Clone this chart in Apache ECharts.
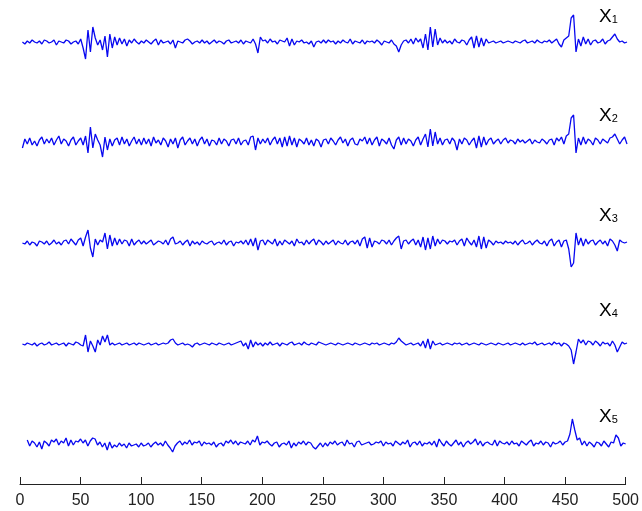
<!DOCTYPE html>
<html>
<head>
<meta charset="utf-8">
<script src="https://cdn.jsdelivr.net/npm/echarts@6/dist/echarts.min.js"></script>
<style>html,body{margin:0;padding:0;background:#fff}#c{width:642px;height:511px}</style>
</head>
<body>
<div id="c"></div>
<script>
// sample times: 2, 4, ..., 500
const tStart = 2, tStep = 2;
const xTicks = [0, 50, 100, 150, 200, 250, 300, 350, 400, 450, 500];
const seriesNames = ['1', '2', '3', '4', '5'];

const x1 = [
 0,-2,1,-1,2,0,-1,1,-2,2,1,-1,0,2,-3,1,0,-1,2,1,-2,0,1,-2,3,
 -6,-17,12,-10,15,4,-3,2,-8,6,-15,8,-6,5,-3,4,-2,3,-4,2,-1,3,0,-2,1,
 -1,2,0,-2,1,3,-3,2,-1,0,1,-2,2,-6,1,0,-1,2,3,1,-2,0,1,-1,2,
 -1,1,-2,0,2,-1,1,0,-2,1,2,-1,0,1,-1,2,-2,1,0,-1,3,-2,-11,5,1,
 2,-1,3,0,1,-2,2,1,0,4,-4,3,-3,1,0,2,-1,0,-2,1,-5,0,1,-1,2,
 -1,2,0,1,-2,1,-1,2,0,-1,3,-2,1,0,-1,2,-2,1,0,1,-1,2,0,-3,1,
 0,-1,2,-2,-4,-10,-3,1,2,-1,3,-2,4,0,3,-6,8,-8,15,-5,13,-3,4,-1,2,
 -1,1,-2,3,0,-1,2,1,-3,2,5,-6,6,-5,4,-4,3,-1,0,1,-1,0,1,-1,0,
 1,0,-1,1,0,-1,1,2,-1,0,1,-1,2,0,-1,1,0,2,-1,1,3,-2,-5,2,4,
 6,24,27,-10,3,-4,5,-2,3,-3,1,2,-1,0,3,-2,1,2,5,8,3,0,1,-1,0
];
const x2 = [
 -6,3,-2,4,-3,1,-4,2,5,-2,3,-1,4,-3,2,6,-2,3,1,-4,2,5,-3,1,4,
 -3,6,-11,15,-6,8,2,-3,-15,5,-8,3,-4,2,4,-3,5,-2,3,-4,1,5,-2,3,-3,
 4,-2,3,-4,5,-1,2,-3,4,1,-5,3,-2,4,-6,2,5,-3,1,4,-2,3,-4,2,5,
 -2,3,-4,2,1,-3,4,-2,3,1,-4,2,3,-2,4,-3,1,2,-3,5,6,-8,4,-2,3,
 -1,4,-3,2,5,-2,4,-5,5,-4,6,-3,4,-5,3,1,-2,4,-3,2,-4,3,1,-5,2,
 3,-2,4,1,-3,2,5,-1,3,-4,2,4,-2,-3,3,1,5,-2,4,-3,2,5,-4,3,1,
 -2,4,-3,-7,2,5,-3,4,-2,3,1,-4,2,5,-3,3,8,-5,13,-4,10,-2,4,-3,2,
 3,-2,4,1,-8,3,-2,4,2,-3,1,4,-6,6,-5,5,-3,2,4,-2,1,3,-2,2,4,
 -1,2,1,-2,3,0,2,-1,1,3,-2,2,0,-1,3,1,-2,2,3,-3,4,1,5,-2,6,
 8,24,27,-11,4,-3,5,-2,3,1,-3,4,2,-2,3,1,-1,4,5,8,3,-2,2,5,-2
];
const x3 = [
 0,-1,2,-2,1,0,-3,2,1,-1,2,-2,0,3,-1,1,-2,2,3,-1,4,1,-2,3,5,
 -3,6,13,-5,-14,4,-2,3,1,10,-6,8,-3,5,-2,4,-1,3,2,-3,4,-2,1,3,-1,
 2,-1,1,3,-2,0,2,1,-1,3,-2,4,6,-1,0,2,-2,1,3,-3,2,-1,1,-2,2,
 0,-1,1,2,-2,0,1,-1,3,-2,1,2,-3,1,0,2,-1,3,-2,4,-3,5,-7,2,3,
 -2,3,1,-1,4,-3,2,-2,3,1,-1,2,-3,4,0,1,-2,3,-1,2,4,-2,3,1,-2,
 2,-1,1,3,-2,2,0,-1,3,-2,1,2,-1,3,-3,4,6,-5,5,-4,2,1,-1,3,2,
 -1,3,-2,2,5,7,-6,2,3,-1,2,4,-2,3,-4,6,-7,5,-6,7,-3,4,-1,3,2,
 -1,2,1,3,-2,2,4,-3,5,1,-2,3,-4,7,-6,6,-5,3,1,-2,2,0,1,-1,2,
 0,1,-1,2,-2,1,3,-1,0,2,-2,1,3,0,-1,2,-3,2,4,-3,1,3,-4,2,3,
 -6,-24,-20,10,-2,5,-3,4,-1,2,3,-2,1,3,-1,2,-3,4,2,-2,-8,3,1,0,1
];
const x4 = [
 0,-1,1,0,-1,1,-2,0,1,-1,0,2,-1,0,1,-1,0,1,-2,1,0,-1,2,1,-1,
 -2,9,-8,3,-2,-8,4,-1,8,2,9,-1,1,-1,0,1,-1,0,1,-1,0,1,-1,1,0,
 -1,0,1,-1,0,1,-1,0,1,0,1,4,5,1,-1,0,1,-1,0,-1,-3,0,1,-1,0,
 1,0,-1,1,0,-1,1,0,-1,0,1,-1,0,1,2,3,-2,1,-5,4,-3,2,-1,1,-2,
 1,-1,2,-1,0,1,-2,1,0,-1,1,2,-1,0,1,-1,2,0,-1,1,0,-1,2,1,0,
 -1,0,1,0,-1,1,0,-1,0,1,0,-1,1,0,-1,0,1,0,-1,1,0,1,-1,0,1,
 0,-1,1,0,2,6,3,1,-1,0,1,-1,0,1,-2,3,-4,5,-5,3,-1,0,1,-1,0,
 1,0,-1,1,0,1,-1,0,1,-1,0,1,0,-1,1,0,-1,0,1,0,-1,1,0,-1,0,
 1,-1,0,1,0,-1,1,-1,0,1,0,2,-1,0,1,-1,0,1,-1,2,0,1,-2,1,0,
 -2,-6,-20,-8,5,1,4,-1,3,2,-1,3,1,-2,2,0,1,-2,3,-1,-8,-3,2,0,1
];
const x5 = [
 null,null,4,-2,3,1,-3,2,-5,3,1,-2,4,2,5,-1,3,1,6,-2,4,-1,3,2,5,
 1,4,-2,3,6,5,-1,2,-3,1,-6,2,-4,-1,-3,1,-2,0,-4,1,-2,-1,0,-3,1,
 -2,-1,1,-3,0,2,-1,1,-2,3,-1,-4,-8,-2,1,3,-1,2,0,4,-1,2,1,3,-2,
 2,0,1,-1,2,-3,0,1,-2,3,1,4,0,3,-1,2,1,0,3,-1,4,2,8,-1,2,
 1,3,0,-2,1,2,-3,0,1,-1,3,-4,1,-2,2,0,3,-1,2,1,-3,-5,-2,1,-3,
 1,-2,2,0,3,-1,1,2,-2,4,0,1,-3,2,3,-1,0,1,2,-1,0,2,1,3,-2,
 2,0,1,-2,3,1,-1,2,0,4,-3,1,2,-1,3,-2,1,0,2,-1,3,-3,5,1,-2,
 3,0,-2,1,4,-1,2,-3,1,3,0,2,5,-1,3,-2,1,2,0,-1,4,-2,3,1,0,
 2,-1,3,0,1,-2,3,1,-1,2,4,-2,1,0,3,-1,2,1,-3,2,0,1,3,-1,2,
 3,10,25,14,4,6,-1,3,-2,2,0,-3,2,1,-2,3,0,-3,2,1,9,6,-2,1,0
];
const signals = [x1, x2, x3, x4, x5];

// layout
const tops = [12, 112, 213, 314, 414];
const heights = [60, 60, 60, 60, 70];
const yMins = [-30, -30, -30, -30, -40];
const labelY = [19, 118, 218, 313, 419];

const grids = [], xAxes = [], yAxes = [], series = [], graphics = [];
signals.forEach((vals, k) => {
  grids.push({left: 20, right: 15, top: tops[k], height: heights[k]});
  const last = k === signals.length - 1;
  xAxes.push({
    type: 'value', gridIndex: k, min: 0, max: 500, interval: 50,
    show: last,
    axisLine: {show: true, onZero: false, lineStyle: {color: '#222', width: 1}},
    axisTick: {show: true, inside: true, length: 7, lineStyle: {color: '#222'}},
    axisLabel: {show: true, color: '#222', fontSize: 16, fontFamily: 'Liberation Sans', margin: 9},
    splitLine: {show: false}
  });
  yAxes.push({type: 'value', gridIndex: k, min: yMins[k], max: 30, show: false, splitLine: {show: false}});
  series.push({
    type: 'line', xAxisIndex: k, yAxisIndex: k, showSymbol: false, symbol: 'none',
    animation: false, connectNulls: false,
    lineStyle: {color: '#0808f0', width: 1.3},
    data: vals.map((v, i) => [tStart + tStep * i, v])
  });
  graphics.push({
    type: 'text', left: 599, top: labelY[k] - 12,
    style: {
      text: '{a|X}{b|' + seriesNames[k] + '}',
      rich: {
        a: {fontSize: 19, fontFamily: 'Liberation Sans', fill: '#000', verticalAlign: 'bottom'},
        b: {fontSize: 11, fontFamily: 'Liberation Sans', fill: '#000', verticalAlign: 'bottom', padding: [0, 0, 1, 0]}
      }
    }
  });
});

const chart = echarts.init(document.getElementById('c'), null, {renderer: 'canvas'});
chart.setOption({
  backgroundColor: '#ffffff',
  animation: false,
  grid: grids, xAxis: xAxes, yAxis: yAxes, series: series,
  graphic: graphics
});
</script>
</body>
</html>
